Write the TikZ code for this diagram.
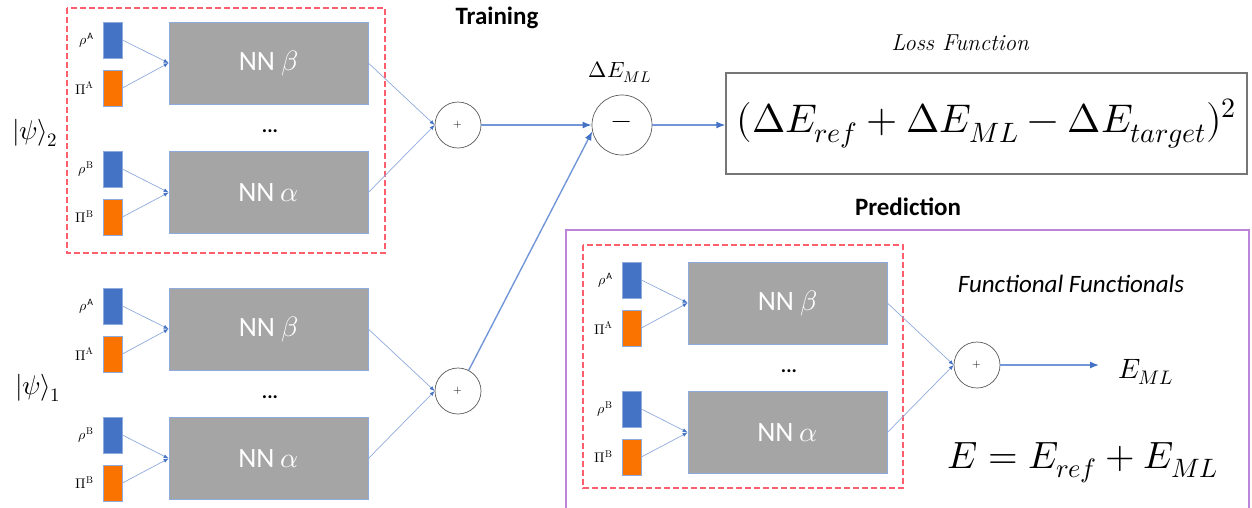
\documentclass[tikz,border=0pt]{standalone}
\usepackage{fontspec}
\usepackage{unicode-math}
\setmathfont{Latin Modern Math}
\setsansfont{Carlito}
\usetikzlibrary{arrows.meta}
\definecolor{rhoblue}{HTML}{4472C4}
\definecolor{piorange}{HTML}{FA7300}
\definecolor{nngrey}{HTML}{A5A5A5}
\definecolor{edgeblue}{HTML}{8FAADC}
\definecolor{linkblue}{HTML}{7396D8}
\definecolor{tipblue}{HTML}{4472C4}
\definecolor{dashred}{HTML}{FF5E6C}
\definecolor{predpurple}{HTML}{BC85D8}
\definecolor{circgrey}{HTML}{595959}
\definecolor{lossgrey}{HTML}{767676}
\newcommand\fs[1]{\fontsize{#1}{#1}\selectfont}
\tikzset{
 rhobox/.style={rectangle, fill=rhoblue, draw=edgeblue, line width=0.7pt, minimum width=19pt, minimum height=36pt, inner sep=0pt},
 pibox/.style={rhobox, fill=piorange},
 nnbox/.style={rectangle, fill=nngrey, draw=edgeblue, line width=0.7pt, minimum width=199pt, minimum height=82pt, inner sep=0pt, text=white, font=\sffamily\fs{28}},
 inlab/.style={anchor=east, inner sep=0pt, font=\fs{14}},
 dotsnode/.style={font=\sffamily\bfseries\fs{20}, inner sep=0pt},
 sumnode/.style={circle, draw=circgrey, line width=0.7pt, minimum size=46pt, inner sep=0pt, font=\fs{11}},
 thinlink/.style={draw=edgeblue, line width=0.7pt, -{Latex[length=5pt,width=4pt,color=tipblue]}},
 thicklink/.style={draw=linkblue, line width=1.4pt, -{Latex[length=9pt,width=7pt,color=tipblue]}},
 reddash/.style={draw=dashred, line width=1.3pt, dash pattern=on 6pt off 3pt},
 headtext/.style={font=\sffamily\bfseries\fs{25}, inner sep=0pt},
}
\newcommand\nngroup[3]{%
 \node[rhobox] (#1ra) at ({#2+9.5},{#3+18}) {};
 \node[pibox]  (#1pa) at ({#2+9.5},{#3+66}) {};
 \node[rhobox] (#1rb) at ({#2+9.5},{#3+147}) {};
 \node[pibox]  (#1pb) at ({#2+9.5},{#3+195}) {};
 \node[nnbox]  (#1nb) at ({#2+165.5},{#3+41}) {NN $\beta$};
 \node[nnbox]  (#1na) at ({#2+165.5},{#3+170.5}) {NN $\alpha$};
 \node[dotsnode] (#1dots) at ({#2+167},{#3+109}) {...};
 \node[inlab] (#1lra) at ([xshift=-9pt]#1ra.west) {$\rho^{\mathsf{A}}$};
 \node[inlab] (#1lpa) at ([xshift=-9pt]#1pa.west) {$\Pi^{\mathrm{A}}$};
 \node[inlab] (#1lrb) at ([xshift=-9pt]#1rb.west) {$\rho^{\mathrm{B}}$};
 \node[inlab] (#1lpb) at ([xshift=-9pt]#1pb.west) {$\Pi^{\mathrm{B}}$};
 \draw[thinlink] (#1ra.east) -- (#1nb.west);
 \draw[thinlink] (#1pa.east) -- (#1nb.west);
 \draw[thinlink] (#1rb.east) -- (#1na.west);
 \draw[thinlink] (#1pb.east) -- (#1na.west);
}
\begin{document}
\begin{tikzpicture}[x=1pt,y=-1pt]
\useasboundingbox (0,0) rectangle (1252,507);
% training
\draw[reddash] (67,8) rectangle (385,253);
\nngroup{tu}{103}{22}
\nngroup{tl}{103}{288}
\node[font=\fs{27}, inner sep=0pt] (psi2) at (35,133) {$|\psi\rangle_2$};
\node[font=\fs{27}, inner sep=0pt] (psi1) at (38,388) {$|\psi\rangle_1$};
\node[sumnode] (tup) at (458,125) {$+$};
\node[sumnode] (tlp) at (458,391) {$+$};
\draw[thinlink] (tunb.east) -- (tup.west);
\draw[thinlink] (tuna.east) -- (tup.west);
\draw[thinlink] (tlnb.east) -- (tlp.west);
\draw[thinlink] (tlna.east) -- (tlp.west);
\node[headtext] (train) at (497,18) {Training};
\node[sumnode, minimum size=60pt, font=\fs{26}] (mn) at (622,125) {$-$};
\node[font=\fs{22}, inner sep=0pt] (dml) at (620,72) {$\Delta E_{ML}$};
\draw[thicklink] (tup) -- (mn.west);
\draw[thicklink] (tlp) -- (mn.192);
\node[draw=lossgrey, line width=1.3pt, minimum width=521pt, minimum height=101pt, inner sep=0pt, font=\fs{40}] (loss) at (986.5,123.5)
  {$(\Delta E_{ref}+\Delta E_{ML}-\Delta E_{target})^2$};
\node[font=\itshape\fs{23}, inner sep=0pt] (losst) at (960,43) {Loss Function};
\draw[thicklink] (mn.east) -- (mn.east -| loss.west);
% prediction
\node[headtext] (pred) at (908,207) {Prediction};
\draw[predpurple, line width=1.5pt] (566,515) -- (566,230) -- (1249,230) -- (1249,515);
\draw[reddash] (583,245) rectangle (903,488);
\nngroup{pr}{622}{262}
\node[sumnode] (pp) at (977,365) {$+$};
\draw[thinlink] (prnb.east) -- (pp.west);
\draw[thinlink] (prna.east) -- (pp.west);
\node[font=\sffamily\itshape\fs{25}, inner sep=0pt] (ff) at (1071,284) {Functional Functionals};
\node[font=\fs{28}, inner sep=0pt] (eml) at (1146,372) {$E_{ML}$};
\coordinate (emlin) at ([xshift=-19pt]eml.west);
\draw[thicklink] (pp.east) -- (pp.east -| emlin);
\node[font=\fs{38}, inner sep=0pt] (etot) at (1083,463) {$E=E_{ref}+E_{ML}$};
\end{tikzpicture}
\end{document}
